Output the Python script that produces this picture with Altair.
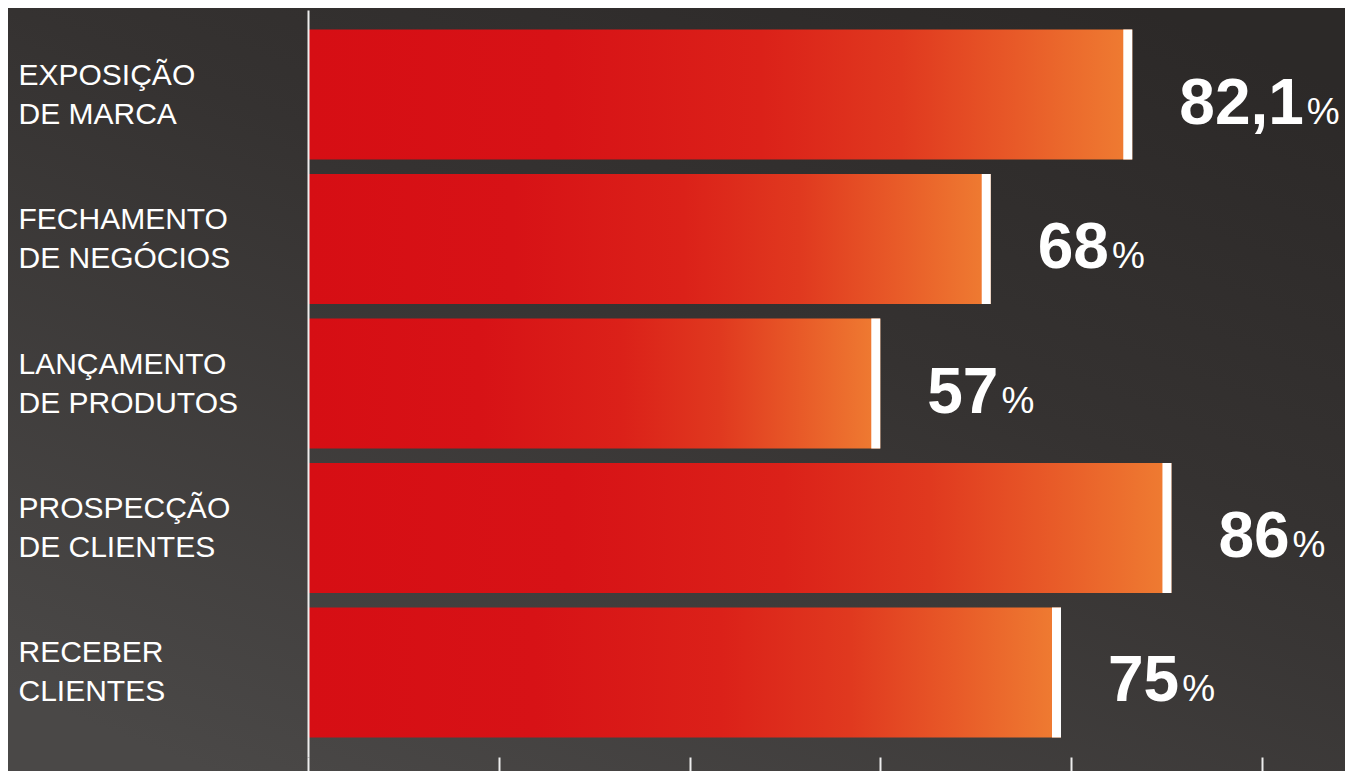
import altair as alt
import pandas as pd

categories = [
    "EXPOSIÇÃO|DE MARCA",
    "FECHAMENTO|DE NEGÓCIOS",
    "LANÇAMENTO|DE PRODUTOS",
    "PROSPECÇÃO|DE CLIENTES",
    "RECEBER|CLIENTES",
]
values = [82.1, 68, 57, 86, 75]
value_labels = ["82,1", "68", "57", "86", "75"]
tick_values = [0, 19, 38, 57, 76, 95]

df = pd.DataFrame({"cat": categories, "value": values, "label": value_labels})

W, H = 1004, 747
PAD = {"left": 300, "top": 2, "right": 33, "bottom": 14}
FONT = "Liberation Sans"
px_per_unit = W / 100.0

xscale = alt.Scale(domain=[0, 100], nice=False, zero=True)
yscale = alt.Scale(domain=categories, paddingInner=0.1, paddingOuter=0.135)

y_enc = alt.Y(
    "cat:N",
    sort=categories,
    scale=yscale,
    title=None,
    axis=alt.Axis(
        orient="left",
        zindex=1,
        domain=True,
        domainColor="#EDEDED",
        domainWidth=2,
        ticks=False,
        labelAlign="left",
        labelBaseline="middle",
        labelOffset=-19,
        labelPadding=290,
        labelFont=FONT,
        labelFontSize=30,
        labelLineHeight=39,
        labelColor="white",
        labelLimit=400,
        labelExpr="split(datum.label, '|')",
        grid=False,
    ),
)

x_enc = alt.X(
    "value:Q",
    scale=xscale,
    title=None,
    axis=alt.Axis(
        orient="bottom",
        zindex=1,
        domain=False,
        values=tick_values,
        ticks=True,
        tickColor="#EDEDED",
        tickWidth=2,
        tickSize=26,
        labels=False,
        grid=False,
    ),
)

background = alt.Chart(pd.DataFrame({"k": [0]})).mark_rect(
    color=alt.Gradient(
        gradient="linear",
        stops=[
            alt.GradientStop(color="#2C2928", offset=0),
            alt.GradientStop(color="#353231", offset=0.4),
            alt.GradientStop(color="#4A4847", offset=1),
        ],
        x1=0.85, y1=0, x2=0.15, y2=1,
    )
).encode(
    x=alt.value(-PAD["left"]),
    x2=alt.value(W + PAD["right"]),
    y=alt.value(-PAD["top"]),
    y2=alt.value(H + PAD["bottom"]),
)

bars = alt.Chart(df).mark_bar(
    color=alt.Gradient(
        gradient="linear",
        stops=[
            alt.GradientStop(color="#D60E14", offset=0),
            alt.GradientStop(color="#D71216", offset=0.3),
            alt.GradientStop(color="#DB2119", offset=0.55),
            alt.GradientStop(color="#E0391F", offset=0.72),
            alt.GradientStop(color="#E85A28", offset=0.86),
            alt.GradientStop(color="#EF7D32", offset=1),
        ],
        x1=0, y1=0, x2=1, y2=0,
    )
).encode(x=x_enc, y=y_enc)

caps = alt.Chart(df).transform_calculate(
    cap_start=f"datum.value - {9 / px_per_unit}"
).mark_bar(color="white").encode(
    x=alt.X("cap_start:Q", scale=xscale),
    x2="value:Q",
    y=alt.Y("cat:N", sort=categories, scale=yscale),
)

numbers = alt.Chart(df).mark_text(
    align="left", baseline="alphabetic", font=FONT, fontWeight="bold",
    fontSize=64, color="white", dx=47, dy=29,
).encode(
    x=alt.X("value:Q", scale=xscale),
    y=alt.Y("cat:N", sort=categories, scale=yscale),
    text="label:N",
)

percents = alt.Chart(df).transform_calculate(
    pct_x=(
        "datum.value + ((length(datum.label) * 0.556 - "
        "(indexof(datum.label, ',') >= 0 ? 0.278 : 0)) * 64 + 3) / "
        f"{px_per_unit}"
    ),
    pct="'%'",
).mark_text(
    align="left", baseline="alphabetic", font=FONT, fontWeight="normal",
    fontSize=37, color="white", dx=47, dy=29,
).encode(
    x=alt.X("pct_x:Q", scale=xscale),
    y=alt.Y("cat:N", sort=categories, scale=yscale),
    text="pct:N",
)

chart = alt.layer(background, bars, caps, numbers, percents).properties(
    width=W,
    height=H,
    padding=PAD,
    autosize=alt.AutoSizeParams(type="none"),
    background="#383534",
).configure_view(stroke=None)

chart.save("out.html", embed_options={"renderer": "svg", "actions": False})
